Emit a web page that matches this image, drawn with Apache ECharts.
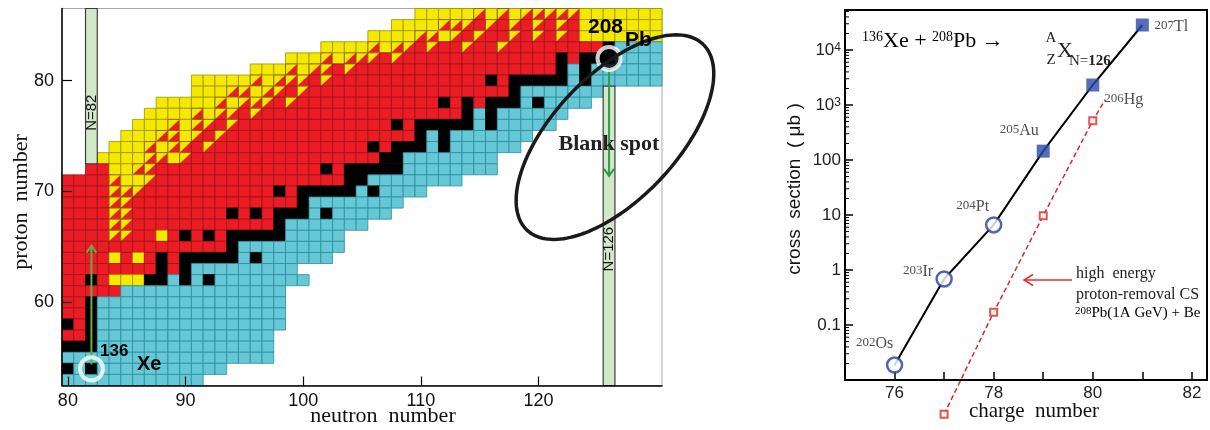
<!DOCTYPE html>
<html>
<head>
<meta charset="utf-8">
<title>Nuclide chart and N=126 cross sections</title>
<script src="https://cdn.jsdelivr.net/npm/echarts@6.0.0/dist/echarts.min.js"></script>
<style>
html,body{margin:0;padding:0;background:#ffffff;}
#chart{width:1210px;height:430px;}
</style>
</head>
<body>
<div id="chart"></div>
<script>
// ================= LEFT PANEL: chart of nuclides =================
// rows of proton number Z (top to bottom); each row starts at neutron number rowStartN
// run codes: c = neutron-rich (cyan), k = stable (black), r = proton-rich (red),
//            y = alpha (yellow), t = mixed (yellow/red triangle)
const nuclideRowZ = [86,85,84,83,82,81,80,79,78,77,76,75,74,73,72,71,70,69,68,67,66,65,64,63,62,61,60,59,58,57,56,55,54,53];
const nuclideRowStartN = [110,108,106,102,99,96,91,91,88,87,86,85,84,83,82,80,80,80,80,80,80,80,80,80,80,80,80,80,80,80,80,80,80,80];
const nuclideRowRuns = [
  'y5 t1 y1 t1 y1 t5 y7',
  'y4 t3 r1 t1 r1 t1 r1 t1 r1 t1 r1 y7',
  'y4 t2 y1 t1 r1 t1 r2 t1 r1 t1 r1 t1 r1 y7',
  'y4 t1 y1 t2 r1 t1 r2 t1 r2 t1 r8 k1 c4',
  'y3 t1 y1 t3 r1 t1 r13 k1 r1 k3 c4',
  'y3 t1 y1 t2 r1 t1 r17 k1 c1 k1 c6',
  'y5 t1 y1 t3 r1 t1 r13 k1 r1 k5 c1 k1 c6',
  'y3 t2 y1 t2 r1 t1 r17 k1 c7',
  'y5 t1 y1 t3 r1 t1 r12 k1 r1 k1 r1 k3 c1 k1 c4',
  'y4 t1 y1 t2 r1 t1 r17 k1 c1 k1 c6',
  'y3 t1 y1 t2 r1 t1 r13 k1 r1 k5 c1 k1 c5',
  'y3 t2 y1 t1 r1 t1 r16 k1 c1 k1 c7',
  'y3 t1 y1 t2 r1 t1 r13 k1 r1 k3 c1 k1 c6',
  'y4 t2 y1 t1 r16 k2 c8',
  'r2 y2 t2 r14 k1 r1 k5 c8',
  'r4 t1 y2 t1 r16 k2 c8',
  'r4 t3 r11 k1 r1 k5 c1 k1 c4',
  'r4 t2 r14 k1 c8',
  'r4 t2 r8 k1 r1 k1 r1 k3 c1 k1 c5',
  'r4 t2 r12 k1 c7',
  'r4 t2 r2 y1 r1 k1 r1 k1 r1 k5 c5',
  'r14 k1 c9',
  'r4 y1 r1 y1 r1 k1 r1 k5 c1 k1 c6',
  'r8 k1 r1 k1 c9',
  'r2 k1 r1 y3 k2 c1 k1 c1 k1 c8',
  'r5 c14',
  'r2 k1 c16',
  'r2 k1 c16',
  'k1 r1 k1 c16',
  'r2 k1 c15',
  'k3 c15',
  'c18',
  'k1 c1 k1 c11',
  'c12'
];
const xTickN = [80, 90, 100, 110, 120];
const yTickZ = [60, 70, 80];
const shellN = [82, 126];
const shellBandZ = [[72.5, 86.5], [52.5, 79.5]];
const shellLabelZ = [77.1, 64.8];
const markedNuclei = [[82, 54], [126, 82]];          // 136Xe, 208Pb
const arrowN = [82, 126];
const arrowZ = [[54.4, 65.1], [81.1, 71.4]];
const blankSpotCenter = [126.5, 74.9];

// ================= RIGHT PANEL: cross sections =================
const csCharge = [76, 77, 78, 79, 80, 81];
const csValue = [0.0187, 0.686, 6.6, 145, 2310, 28500];
const csMassA = [202, 203, 204, 205, 206, 207];
const csElement = ['Os', 'Ir', 'Pt', 'Au', 'Hg', 'Tl'];
const peCharge = [77, 78, 79, 80];
const peValue = [0.00238, 0.17, 9.7, 519];
const peLineEnd = [80.25, 1250];
const xTickCharge = [76, 78, 80, 82];

// ---------- styles ----------
const serif = '"Liberation Serif","DejaVu Serif",serif';
const sans = '"Liberation Sans","DejaVu Sans",Arial,sans-serif';
const cellFill = ['#66c7d6', '#000000', '#ec1c24', '#f6e900'];
const cellEdge = ['#2a8e9b', '#000000', '#9c1218', '#9b9200'];
const csLabelOffset = [[-20,-21],[-26,-7],[-21,-18],[-24,-20],[31,15],[29,2]];

// ---------- build cell data ----------
const CODE = {c:0, k:1, r:2, y:3, t:4};
const nuclideData = [];
nuclideRowZ.forEach(function (Z, i) {
  let N = nuclideRowStartN[i];
  nuclideRowRuns[i].split(' ').forEach(function (run) {
    const code = CODE[run[0]];
    const n = parseInt(run.slice(1), 10);
    for (let j = 0; j < n; j++) { nuclideData.push([N, Z, code]); N++; }
  });
});

function renderCell(params, api) {
  const N = api.value(0), Z = api.value(1), code = api.value(2);
  const a = api.coord([N - 0.5, Z + 0.5]);
  const b = api.coord([N + 0.5, Z - 0.5]);
  const x = a[0], y = a[1], w = b[0] - a[0], h = b[1] - a[1];
  if (code === 4) {
    return {type: 'group', children: [
      {type: 'polygon', shape: {points: [[x, y], [x + w, y], [x, y + h]]}, style: {fill: cellFill[3], stroke: cellFill[3], lineWidth: 0.3}},
      {type: 'polygon', shape: {points: [[x + w, y], [x + w, y + h], [x, y + h]]}, style: {fill: cellFill[2], stroke: cellFill[2], lineWidth: 0.3}},
      {type: 'rect', shape: {x: x, y: y, width: w, height: h}, style: {fill: 'transparent', stroke: '#7a4a10', lineWidth: 0.8}}
    ]};
  }
  return {type: 'rect', shape: {x: x, y: y, width: w, height: h},
    style: {fill: cellFill[code], stroke: cellEdge[code], lineWidth: 0.8}};
}

function supRich(big, small, color, fam) {
  return {
    a: {fontFamily: fam, fontSize: small, lineHeight: small, verticalAlign: 'top', color: color},
    e: {fontFamily: fam, fontSize: big, lineHeight: big, verticalAlign: 'bottom', color: color, padding: [Math.round(small * 0.5), 0, 0, 0]}
  };
}

const csPoints = csCharge.map(function (z, i) { return [z, csValue[i]]; });
function csItem(i) {
  return {value: csPoints[i], idx: i, label: {offset: csLabelOffset[i]}};
}
const csLabel = {
  show: true, position: 'inside',
  formatter: function (p) { return '{a|' + csMassA[p.data.idx] + '}{e|' + csElement[p.data.idx] + '}'; },
  rich: supRich(16, 13, '#222', serif)
};

const logNames = {'-1': '0.1', '0': '1', '1': '10', '2': '100'};

const chart = echarts.init(document.getElementById('chart'));
const option = {
  animation: false,
  backgroundColor: '#ffffff',
  grid: [
    {left: 62, top: 8.5, width: 600, height: 377, show: true, borderColor: '#a8a8a8', borderWidth: 1},
    {left: 845, top: 10, width: 367, height: 370, show: true, borderColor: '#000', borderWidth: 2}
  ],
  xAxis: [
    {type: 'value', gridIndex: 0, min: 79.5, max: 130.5, z: 5,
      axisLine: {show: true, onZero: false, lineStyle: {color: '#000', width: 1.5}},
      axisTick: {show: true, inside: true, length: 9, customValues: xTickN, lineStyle: {color: '#000', width: 1.2}},
      axisLabel: {show: true, customValues: xTickN, fontSize: 18, fontFamily: sans, color: '#111', margin: 7},
      splitLine: {show: false}},
    {type: 'value', gridIndex: 1, min: 75, max: 82.305, interval: 1, z: 5,
      axisLine: {show: true, onZero: false, lineStyle: {color: '#000', width: 2}},
      axisTick: {show: true, inside: true, length: 8, lineStyle: {color: '#000', width: 1.5}},
      axisLabel: {show: true, fontSize: 17, fontFamily: sans, color: '#222', margin: 5,
        formatter: function (v) { return xTickCharge.indexOf(v) >= 0 ? String(v) : ''; }},
      splitLine: {show: false}}
  ],
  yAxis: [
    {type: 'value', gridIndex: 0, min: 52.5, max: 86.5, z: 5,
      axisLine: {show: true, onZero: false, lineStyle: {color: '#000', width: 1.5}},
      axisTick: {show: true, inside: true, length: 10, customValues: yTickZ, lineStyle: {color: '#000', width: 1.2}},
      axisLabel: {show: true, customValues: yTickZ, fontSize: 18, fontFamily: sans, color: '#111', margin: 8},
      splitLine: {show: false}},
    {type: 'log', logBase: 10, gridIndex: 1, min: 0.01, max: 53400, z: 5,
      axisLine: {show: true, onZero: false, lineStyle: {color: '#000', width: 2}},
      axisTick: {show: true, inside: true, length: 8, lineStyle: {color: '#000', width: 1.5}},
      axisLabel: {show: true, margin: 4, fontSize: 17, fontFamily: sans, color: '#222',
        formatter: function (v) {
          const e = Math.round(Math.log10(v));
          if (Math.abs(Math.log10(v) - e) > 1e-6 || e < -1 || e > 4) return '';
          if (logNames[String(e)]) return logNames[String(e)];
          return '{e|10}{a|' + e + '}';
        },
        rich: supRich(17, 12, '#222', sans)},
      splitLine: {show: false}}
  ],
  series: [
    // nuclide cells
    {type: 'custom', name: 'nuclides', xAxisIndex: 0, yAxisIndex: 0, silent: true, z: 2,
      data: nuclideData, renderItem: renderCell},
    // shell-closure bands
    {type: 'custom', name: 'shells', xAxisIndex: 0, yAxisIndex: 0, silent: true, z: 3, clip: false,
      data: shellN.map(function (n, i) { return [n, shellBandZ[i][0], shellBandZ[i][1], shellLabelZ[i]]; }),
      renderItem: function (params, api) {
        const n = api.value(0);
        const a = api.coord([n - 0.5, api.value(2)]);
        const b = api.coord([n + 0.5, api.value(1)]);
        const t = api.coord([n, api.value(3)]);
        return {type: 'group', children: [
          {type: 'rect', shape: {x: a[0], y: a[1], width: b[0] - a[0], height: b[1] - a[1]},
            style: {fill: '#d2e9c9', stroke: '#3c3c3c', lineWidth: 1.2}},
          {type: 'text', x: t[0], y: t[1], rotation: Math.PI / 2,
            style: {text: 'N=' + n, fontFamily: sans, fontSize: 15, fill: '#111', align: 'center', verticalAlign: 'middle'}}
        ]};
      }},
    // arrows
    {type: 'custom', name: 'arrows', xAxisIndex: 0, yAxisIndex: 0, silent: true, z: 4, clip: false,
      data: arrowN.map(function (n, i) { return [n, arrowZ[i][0], arrowZ[i][1]]; }),
      renderItem: function (params, api) {
        const col = params.dataIndex === 0 ? '#62ad4a' : '#2f9a48';
        const p0 = api.coord([api.value(0), api.value(1)]);
        const p1 = api.coord([api.value(0), api.value(2)]);
        const dir = p1[1] < p0[1] ? 1 : -1;
        return {type: 'group', children: [
          {type: 'line', shape: {x1: p0[0], y1: p0[1], x2: p1[0], y2: p1[1]}, style: {stroke: col, lineWidth: 2}},
          {type: 'polyline', shape: {points: [[p1[0] - 5, p1[1] + dir * 7], [p1[0], p1[1]], [p1[0] + 5, p1[1] + dir * 7]]},
            style: {stroke: col, lineWidth: 2, fill: 'transparent'}}
        ]};
      }},
    // rings around 136Xe and 208Pb
    {type: 'scatter', name: 'marked', xAxisIndex: 0, yAxisIndex: 0, silent: true, z: 5, clip: false,
      symbol: 'circle', symbolSize: 23,
      data: [
        {value: markedNuclei[0], itemStyle: {color: 'transparent', borderColor: '#ffffff', borderWidth: 4}},
        {value: markedNuclei[1], itemStyle: {color: '#000000', borderColor: '#ffffff', borderWidth: 4}}
      ]},
    // blank-spot ellipse
    {type: 'custom', name: 'blank', xAxisIndex: 0, yAxisIndex: 0, silent: true, z: 6, clip: false,
      data: [blankSpotCenter],
      renderItem: function (params, api) {
        const c = api.coord([api.value(0), api.value(1)]);
        const ang = 46.6 * Math.PI / 180, A = 128, B = 62;
        const ux = Math.cos(ang), uy = -Math.sin(ang), vx = Math.sin(ang), vy = Math.cos(ang);
        const pts = [];
        for (let k = 0; k < 160; k++) {
          const t = k / 160 * 2 * Math.PI;
          pts.push([c[0] + A * Math.cos(t) * ux + B * Math.sin(t) * vx, c[1] + A * Math.cos(t) * uy + B * Math.sin(t) * vy]);
        }
        return {type: 'group', children: [
          {type: 'polygon', shape: {points: pts}, style: {fill: 'transparent', stroke: '#1a1a1a', lineWidth: 3.5}},
          {type: 'text', x: c[0] - 6, y: c[1] + 7,
            style: {text: 'Blank spot', fontFamily: serif, fontWeight: 'bold', fontSize: 22, fill: '#222', align: 'center', verticalAlign: 'middle'}}
        ]};
      }},

    // ----- right panel -----
    {type: 'line', name: 'MNT', xAxisIndex: 1, yAxisIndex: 1, z: 3, showSymbol: false, silent: true,
      data: csPoints, lineStyle: {color: '#000', width: 2}},
    {type: 'line', name: 'proton removal', xAxisIndex: 1, yAxisIndex: 1, z: 3, showSymbol: false, silent: true, clip: false,
      data: peCharge.map(function (z, i) { return [z, peValue[i]]; }).concat([peLineEnd]),
      lineStyle: {color: '#d62a2a', width: 1.5, type: [5, 3]}},
    {type: 'scatter', name: 'pe points', xAxisIndex: 1, yAxisIndex: 1, z: 4, clip: false, silent: true,
      symbol: 'rect', symbolSize: 7,
      data: peCharge.map(function (z, i) { return [z, peValue[i]]; }),
      itemStyle: {color: '#ffffff', borderColor: '#d62a2a', borderWidth: 2}},
    {type: 'scatter', name: 'open', xAxisIndex: 1, yAxisIndex: 1, z: 5, clip: false, silent: true,
      symbol: 'circle', symbolSize: 15,
      data: [0, 1, 2].map(csItem),
      itemStyle: {color: '#ffffff', borderColor: '#22409c', borderWidth: 2.5},
      label: csLabel},
    {type: 'scatter', name: 'filled', xAxisIndex: 1, yAxisIndex: 1, z: 5, clip: false, silent: true,
      symbol: 'rect', symbolSize: 13,
      data: [3, 4, 5].map(csItem),
      itemStyle: {color: '#2a4aa6'},
      label: csLabel},
    // log minor ticks
    {type: 'custom', name: 'minor', xAxisIndex: 1, yAxisIndex: 1, silent: true, z: 6, clip: false,
      data: [[75, 1]],
      renderItem: function (params, api) {
        const ch = [];
        for (let d = -2; d <= 4; d++) {
          for (let m = 2; m <= 9; m++) {
            const v = m * Math.pow(10, d);
            if (v > 53400) continue;
            const p = api.coord([75, v]);
            ch.push({type: 'line', shape: {x1: p[0], y1: p[1], x2: p[0] + 4, y2: p[1]}, style: {stroke: '#000', lineWidth: 1}});
          }
        }
        return {type: 'group', children: ch};
      }}
  ],
  graphic: [
    // left panel titles and labels
    {type: 'text', x: 383, y: 416, style: {text: 'neutron  number', fontFamily: serif, fontSize: 22, fill: '#111', align: 'center', verticalAlign: 'middle'}},
    {type: 'text', x: 21, y: 202, rotation: Math.PI / 2, style: {text: 'proton  number', fontFamily: serif, fontSize: 22, fill: '#111', align: 'center', verticalAlign: 'middle'}},
    {type: 'text', x: 100, y: 343, z: 10, style: {text: '136', fontFamily: sans, fontWeight: 'bold', fontSize: 17, fill: '#000'}},
    {type: 'text', x: 137, y: 354, z: 10, style: {text: 'Xe', fontFamily: sans, fontWeight: 'bold', fontSize: 20, fill: '#000'}},
    {type: 'text', x: 588, y: 17, z: 10, style: {text: '208', fontFamily: sans, fontWeight: 'bold', fontSize: 21, fill: '#000'}},
    {type: 'text', x: 625, y: 30, z: 10, style: {text: 'Pb', fontFamily: sans, fontWeight: 'bold', fontSize: 21, fill: '#000'}},
    // right panel titles
    {type: 'text', x: 1034, y: 411, style: {text: 'charge  number', fontFamily: serif, fontSize: 21, fill: '#111', align: 'center', verticalAlign: 'middle'}},
    {type: 'text', x: 795, y: 189, rotation: Math.PI / 2, style: {text: 'cross  section  ( μb )', fontFamily: sans, fontSize: 19, fill: '#111', align: 'center', verticalAlign: 'middle'}},
    // reaction formula
    {type: 'text', x: 862, y: 30, style: {text: '{a|136}{e|Xe + }{a|208}{e|Pb → }', rich: supRich(22, 14, '#222', serif)}},
    {type: 'text', x: 1051, y: 31, style: {text: 'A', fontFamily: serif, fontSize: 15, fill: '#222', align: 'center'}},
    {type: 'text', x: 1051, y: 53, style: {text: 'Z', fontFamily: serif, fontSize: 15, fill: '#222', align: 'center'}},
    {type: 'text', x: 1057, y: 40, style: {text: 'X', fontFamily: serif, fontSize: 22, fill: '#222'}},
    {type: 'text', x: 1069, y: 54, style: {text: '{n|N=}{b|126}', rich: {n: {fontFamily: serif, fontSize: 15, fill: '#222'}, b: {fontFamily: serif, fontSize: 15, fontWeight: 'bold', fill: '#222'}}}},
    // proton removal annotation
    {type: 'line', shape: {x1: 1072, y1: 280, x2: 1024, y2: 280}, style: {stroke: '#e03030', lineWidth: 1.5}},
    {type: 'polyline', shape: {points: [[1033, 274.5], [1024, 280], [1033, 285.5]]}, style: {stroke: '#e03030', lineWidth: 1.5, fill: 'transparent'}},
    {type: 'text', x: 1076, y: 266, style: {text: 'high  energy', fontFamily: serif, fontSize: 16, fill: '#222'}},
    {type: 'text', x: 1076, y: 287, style: {text: 'proton-removal CS', fontFamily: serif, fontSize: 16, fill: '#222'}},
    {type: 'text', x: 1075, y: 306, style: {text: '{a|208}{e|Pb(1A GeV) + Be}', rich: supRich(15, 11, '#222', serif)}}
  ]
};
chart.setOption(option);
</script>
</body>
</html>
